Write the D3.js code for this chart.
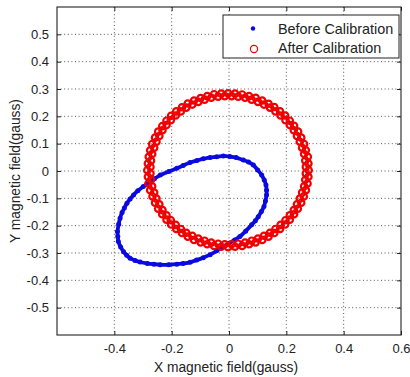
<!DOCTYPE html>
<html>
<head>
<meta charset="utf-8">
<script src="https://cdn.jsdelivr.net/npm/d3@7"></script>
<style>
  html, body { margin: 0; padding: 0; background: #fff; }
  svg { display: block; font-family: "Liberation Sans", Arial, Helvetica, sans-serif; }
</style>
</head>
<body>
<svg id="chart" width="410" height="377"></svg>
<script>
// ---------- data ----------
const xTickValues = [-0.4, -0.2, 0, 0.2, 0.4, 0.6];
const xTickLabels = ["-0.4", "-0.2", "0", "0.2", "0.4", "0.6"];
const xGridValues = [-0.4, -0.2, 0, 0.2, 0.4];
const yTickValues = [-0.5, -0.4, -0.3, -0.2, -0.1, 0, 0.1, 0.2, 0.3, 0.4, 0.5];
const yTickLabels = ["-0.5", "-0.4", "-0.3", "-0.2", "-0.1", "0", "0.1", "0.2", "0.3", "0.4", "0.5"];
const seriesNames = ["Before Calibration", "After Calibration"];

// Before calibration: tilted ellipse (x, y) in gauss, traced around the loop
const beforeCalibration = [
  [0.050, 0.040], [0.025, 0.049], [0.003, 0.053], [-0.020, 0.055], [-0.043, 0.052],
  [-0.066, 0.049], [-0.090, 0.045], [-0.112, 0.038], [-0.136, 0.031], [-0.160, 0.020],
  [-0.182, 0.010], [-0.210, -0.002], [-0.240, -0.015], [-0.260, -0.028], [-0.278, -0.040],
  [-0.299, -0.057], [-0.318, -0.072], [-0.333, -0.088], [-0.345, -0.102], [-0.356, -0.118],
  [-0.365, -0.135], [-0.373, -0.152], [-0.380, -0.173], [-0.385, -0.195], [-0.389, -0.221],
  [-0.388, -0.240], [-0.386, -0.258], [-0.378, -0.278], [-0.368, -0.295], [-0.357, -0.308],
  [-0.345, -0.319], [-0.328, -0.327], [-0.310, -0.333], [-0.285, -0.338], [-0.262, -0.341],
  [-0.240, -0.343], [-0.210, -0.343], [-0.182, -0.341], [-0.160, -0.338], [-0.136, -0.334],
  [-0.113, -0.326], [-0.090, -0.317], [-0.066, -0.306], [-0.043, -0.292], [-0.020, -0.277],
  [0.000, -0.264], [0.020, -0.252], [0.038, -0.240], [0.058, -0.220], [0.079, -0.197],
  [0.092, -0.182], [0.102, -0.167], [0.113, -0.148], [0.122, -0.130], [0.127, -0.110],
  [0.131, -0.088], [0.131, -0.070], [0.129, -0.051], [0.123, -0.033], [0.114, -0.015],
  [0.100, 0.004], [0.085, 0.022], [0.068, 0.033]
];

// After calibration: ring of samples around the origin (x, y) in gauss
const afterCalibration = [
  [0.278, 0.003], [0.277, 0.027], [0.275, 0.052], [0.268, 0.076], [0.262, 0.099],
  [0.252, 0.122], [0.241, 0.144], [0.227, 0.165], [0.212, 0.184], [0.196, 0.203],
  [0.178, 0.218], [0.158, 0.234], [0.138, 0.246], [0.116, 0.258], [0.093, 0.268],
  [0.070, 0.274], [0.046, 0.280], [0.021, 0.283], [-0.003, 0.284], [-0.027, 0.283],
  [-0.052, 0.281], [-0.076, 0.274], [-0.099, 0.267], [-0.122, 0.258], [-0.144, 0.247],
  [-0.164, 0.233], [-0.184, 0.218], [-0.202, 0.202], [-0.218, 0.184], [-0.233, 0.164],
  [-0.247, 0.144], [-0.258, 0.122], [-0.268, 0.099], [-0.275, 0.076], [-0.280, 0.052],
  [-0.283, 0.027], [-0.285, 0.003], [-0.283, -0.021], [-0.281, -0.046], [-0.275, -0.070],
  [-0.267, -0.093], [-0.258, -0.116], [-0.247, -0.138], [-0.233, -0.158], [-0.218, -0.178],
  [-0.202, -0.196], [-0.184, -0.212], [-0.164, -0.227], [-0.144, -0.240], [-0.122, -0.252],
  [-0.099, -0.261], [-0.076, -0.268], [-0.052, -0.274], [-0.027, -0.277], [-0.003, -0.279],
  [0.021, -0.277], [0.046, -0.274], [0.070, -0.268], [0.093, -0.261], [0.116, -0.252],
  [0.138, -0.240], [0.158, -0.227], [0.178, -0.212], [0.196, -0.196], [0.212, -0.178],
  [0.227, -0.158], [0.240, -0.138], [0.252, -0.116], [0.261, -0.093], [0.268, -0.070],
  [0.274, -0.046], [0.277, -0.021],
  [0.268, 0.015], [0.266, 0.038], [0.262, 0.062], [0.255, 0.085], [0.247, 0.107],
  [0.237, 0.128], [0.226, 0.149], [0.212, 0.168], [0.197, 0.186], [0.180, 0.203],
  [0.162, 0.218], [0.143, 0.232], [0.122, 0.243], [0.101, 0.253], [0.079, 0.261],
  [0.056, 0.268], [0.032, 0.272], [0.009, 0.274], [-0.015, 0.274], [-0.038, 0.272],
  [-0.062, 0.268], [-0.085, 0.261], [-0.107, 0.253], [-0.128, 0.243], [-0.149, 0.232],
  [-0.168, 0.218], [-0.186, 0.203], [-0.203, 0.186], [-0.218, 0.168], [-0.232, 0.149],
  [-0.243, 0.128], [-0.253, 0.107], [-0.261, 0.085], [-0.268, 0.062], [-0.272, 0.038],
  [-0.274, 0.015], [-0.274, -0.009], [-0.272, -0.032], [-0.268, -0.056], [-0.261, -0.079],
  [-0.253, -0.101], [-0.243, -0.122], [-0.232, -0.143], [-0.218, -0.162], [-0.203, -0.180],
  [-0.186, -0.197], [-0.168, -0.212], [-0.149, -0.226], [-0.128, -0.237], [-0.107, -0.247],
  [-0.085, -0.255], [-0.062, -0.262], [-0.038, -0.266], [-0.015, -0.268], [0.009, -0.268],
  [0.032, -0.266], [0.056, -0.262], [0.079, -0.255], [0.101, -0.247], [0.122, -0.237],
  [0.143, -0.226], [0.162, -0.212], [0.180, -0.197], [0.197, -0.180], [0.212, -0.162],
  [0.226, -0.143], [0.237, -0.122], [0.247, -0.101], [0.255, -0.079], [0.262, -0.056],
  [0.266, -0.032], [0.268, -0.009]
];

// ---------- drawing ----------
(function () {
const svg = d3.select("#chart");
const mLeft = 57, mRight = 401, mTop = 7, mBottom = 335;

const x = d3.scaleLinear().domain([-0.6, 0.6]).range([mLeft, mRight]);
const y = d3.scaleLinear().domain([-0.6, 0.6]).range([mBottom, mTop]);

const axisColor = "#222";
const gridColor = "#555";
const blue = "#0a0ae0";
const red = "#f00000";

// grid
const grid = svg.append("g");
grid.selectAll("line.vx").data(xGridValues).enter().append("line")
  .attr("x1", d => x(d)).attr("x2", d => x(d))
  .attr("y1", mTop).attr("y2", mBottom)
  .attr("stroke", gridColor).attr("stroke-width", 1)
  .attr("stroke-dasharray", "1,2.6");
grid.selectAll("line.hy").data(yTickValues).enter().append("line")
  .attr("y1", d => y(d)).attr("y2", d => y(d))
  .attr("x1", mLeft).attr("x2", mRight)
  .attr("stroke", gridColor).attr("stroke-width", 1)
  .attr("stroke-dasharray", "1,2.6");

// data: before (blue)
const lineGen = d3.line().x(d => x(d[0])).y(d => y(d[1])).curve(d3.curveCardinalClosed.tension(0.5));
svg.append("path").datum(beforeCalibration)
  .attr("d", lineGen)
  .attr("fill", "none").attr("stroke", blue).attr("stroke-width", 3.8);
svg.append("g").selectAll("circle").data(beforeCalibration).enter().append("circle")
  .attr("cx", d => x(d[0])).attr("cy", d => y(d[1])).attr("r", 2.5)
  .attr("fill", blue);

// data: after (red circles)
svg.append("g").selectAll("circle").data(afterCalibration).enter().append("circle")
  .attr("cx", d => x(d[0])).attr("cy", d => y(d[1])).attr("r", 3.2)
  .attr("fill", "none").attr("stroke", red).attr("stroke-width", 2.2);

// axes (ticks inward, on all sides)
const tickLen = 4;
const xAxisB = d3.axisBottom(x).tickValues(xTickValues).tickSize(-tickLen).tickPadding(9)
  .tickFormat((d, i) => xTickLabels[i]);
const xAxisT = d3.axisTop(x).tickValues(xTickValues).tickSize(-tickLen).tickFormat("");
const yAxisL = d3.axisLeft(y).tickValues(yTickValues).tickSize(-tickLen).tickPadding(8)
  .tickFormat((d, i) => yTickLabels[i]);
const yAxisR = d3.axisRight(y).tickValues(yTickValues).tickSize(-tickLen).tickFormat("");

function styleAxis(g) {
  g.select(".domain").remove();
  g.selectAll(".tick line").attr("stroke", axisColor);
  g.selectAll(".tick text").attr("fill", "#222").style("font-size", "13px")
    .style("font-family", "'Liberation Sans', Arial, Helvetica, sans-serif");
}
svg.append("g").attr("transform", `translate(0,${mBottom})`).call(xAxisB).call(styleAxis);
svg.append("g").attr("transform", `translate(0,${mTop})`).call(xAxisT).call(styleAxis);
svg.append("g").attr("transform", `translate(${mLeft},0)`).call(yAxisL).call(styleAxis);
svg.append("g").attr("transform", `translate(${mRight},0)`).call(yAxisR).call(styleAxis);

// frame
svg.append("rect").attr("x", mLeft).attr("y", mTop)
  .attr("width", mRight - mLeft).attr("height", mBottom - mTop)
  .attr("fill", "none").attr("stroke", axisColor).attr("stroke-width", 1.1);

// axis labels
svg.append("text").attr("x", 226).attr("y", 372)
  .attr("text-anchor", "middle").attr("fill", "#222").style("font-size", "13.8px")
  .text("X magnetic field(gauss)");
svg.append("text")
  .attr("transform", `translate(20,${(mTop + mBottom) / 2}) rotate(-90)`)
  .attr("text-anchor", "middle").attr("fill", "#222").style("font-size", "13.8px")
  .text("Y magnetic field(gauss)");

// legend
const lg = svg.append("g");
lg.append("rect").attr("x", 223).attr("y", 15).attr("width", 176).attr("height", 43)
  .attr("fill", "#fff").attr("stroke", axisColor).attr("stroke-width", 1);
lg.append("circle").attr("cx", 253).attr("cy", 28.5).attr("r", 2.2).attr("fill", blue);
lg.append("circle").attr("cx", 254).attr("cy", 49).attr("r", 3.6)
  .attr("fill", "none").attr("stroke", red).attr("stroke-width", 1.2);
lg.selectAll("text").data(seriesNames).enter().append("text")
  .attr("x", 278).attr("y", (d, i) => 33.5 + i * 19.5)
  .attr("fill", "#222").style("font-size", "14.4px")
  .text(d => d);
})();
</script>
</body>
</html>
